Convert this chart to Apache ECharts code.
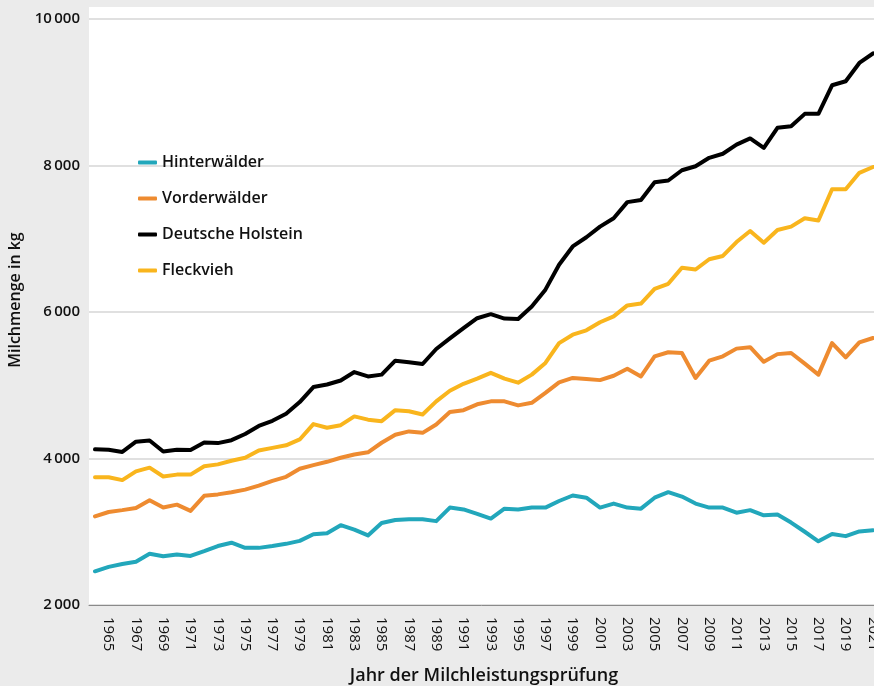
<!DOCTYPE html>
<html><head><meta charset="utf-8">
<script src="https://cdn.jsdelivr.net/npm/echarts@6/dist/echarts.min.js"></script>
<style>html,body{margin:0;padding:0;background:#ebebeb}#c{width:874px;height:686px}</style>
</head><body><div id="c"></div>
<script>
const years = ['1964','1965','1966','1967','1968','1969','1970','1971','1972','1973','1974','1975','1976','1977','1978','1979','1980','1981','1982','1983','1984','1985','1986','1987','1988','1989','1990','1991','1992','1993','1994','1995','1996','1997','1998','1999','2000','2001','2002','2003','2004','2005','2006','2007','2008','2009','2010','2011','2012','2013','2014','2015','2016','2017','2018','2019','2020','2021'];

const hinterwaelder = [2460,2520,2560,2590,2700,2665,2690,2670,2735,2805,2850,2780,2780,2805,2835,2875,2965,2980,3090,3030,2950,3120,3160,3170,3170,3145,3330,3305,3245,3180,3315,3305,3330,3330,3420,3495,3465,3330,3385,3330,3315,3465,3540,3480,3385,3330,3330,3260,3295,3225,3235,3125,3000,2870,2970,2940,3005,3020];

const vorderwaelder = [3210,3270,3295,3325,3430,3330,3370,3285,3490,3510,3540,3575,3630,3695,3750,3860,3910,3955,4010,4055,4085,4215,4325,4370,4350,4465,4635,4660,4740,4780,4780,4725,4760,4895,5040,5100,5085,5070,5130,5225,5120,5395,5450,5440,5100,5335,5395,5500,5520,5320,5425,5440,5295,5145,5575,5380,5585,5645];

const holstein = [4125,4120,4090,4230,4245,4095,4120,4115,4220,4210,4250,4335,4445,4515,4610,4770,4975,5010,5065,5180,5120,5145,5335,5315,5290,5495,5640,5780,5915,5970,5910,5905,6075,6305,6645,6895,7020,7165,7280,7500,7530,7770,7795,7935,7990,8105,8160,8285,8370,8240,8515,8535,8705,8705,9095,9150,9400,9530];

const fleckvieh = [3745,3745,3705,3825,3875,3755,3780,3780,3895,3920,3970,4010,4110,4145,4180,4260,4470,4420,4455,4575,4530,4510,4660,4645,4600,4780,4925,5020,5090,5170,5090,5035,5145,5305,5575,5690,5750,5860,5940,6090,6115,6315,6385,6605,6580,6720,6765,6955,7105,6945,7120,7165,7280,7250,7675,7675,7900,7980];

const seriesNames = ['Hinterwälder','Vorderwälder','Deutsche Holstein','Fleckvieh'];
const seriesColors = ['#22a7bb','#ee8b30','#000000','#f9b51d'];
const seriesData = [hinterwaelder, vorderwaelder, holstein, fleckvieh];

const FONT = 'Open Sans';
const chart = echarts.init(document.getElementById('c'));
chart.setOption({
  backgroundColor: '#ebebeb',
  animation: false,
  graphic: [{type:'rect', z:-100, silent:true, shape:{x:89, y:7, width:785, height:598}, style:{fill:'#ffffff'}}],
  grid: [
    {left:89, right:0, top:19, bottom:81, containLabel:false, outerBoundsMode:'none'},
    {left:95, right:1, top:19, bottom:81, containLabel:false, outerBoundsMode:'none'}
  ],
  legend: {
    orient:'vertical', left:133, top:148, itemWidth:19, itemHeight:4, itemGap:17,
    icon:'roundRect',
    textStyle:{fontFamily:FONT, fontSize:16, fontWeight:600, color:'#111', lineHeight:19},
    data: seriesNames
  },
  xAxis: [
    {gridIndex:0, type:'value', min:0, max:1, axisLine:{show:true, lineStyle:{color:'#8a8a8a', width:1}}, axisTick:{show:false}, axisLabel:{show:false}, splitLine:{show:false}},
    {gridIndex:1, type:'category', data:years, boundaryGap:false,
     axisLine:{show:false}, axisTick:{show:false},
     axisLabel:{rotate:-90, interval:(i)=>i%2===1, margin:12, fontSize:15, fontWeight:500, color:'#111', fontFamily:FONT},
     name:'Jahr der Milchleistungsprüfung', nameLocation:'middle', nameGap:62,
     nameTextStyle:{fontSize:18, fontWeight:600, color:'#111', fontFamily:FONT}}
  ],
  yAxis: [
    {gridIndex:0, type:'value', min:2000, max:10000, interval:2000,
     axisLine:{show:false}, axisTick:{show:false},
     splitLine:{lineStyle:{color:'#d6d6d6', width:1.5}},
     axisLabel:{margin:9, fontSize:15, fontWeight:600, color:'#111', fontFamily:FONT,
       formatter:(v)=>{const s=String(v); return s.length>3 ? s.slice(0,s.length-3)+'\u2009'+s.slice(-3) : s;}},
     name:'Milchmenge in kg', nameLocation:'middle', nameGap:62, nameRotate:90,
     nameTextStyle:{fontSize:16, fontWeight:600, color:'#111', fontFamily:FONT, padding:[0,0,0,24]}},
    {gridIndex:1, type:'value', min:2000, max:10000, interval:2000, show:false, splitLine:{show:false}}
  ],
  series: seriesNames.map((n,k)=>({
    name:n, type:'line', xAxisIndex:1, yAxisIndex:1, data:seriesData[k],
    symbol:'none', lineStyle:{color:seriesColors[k], width:4, cap:'round', join:'round'},
    itemStyle:{color:seriesColors[k]}
  }))
});
</script></body></html>
